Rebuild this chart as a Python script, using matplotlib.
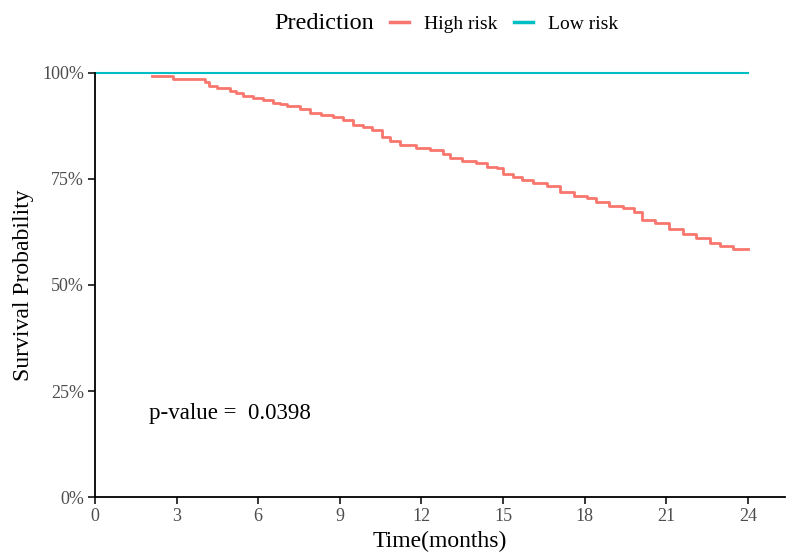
import matplotlib
matplotlib.use('Agg')
from matplotlib import pyplot as plt
from matplotlib.ticker import FuncFormatter

plt.rcParams['font.family'] = ['Liberation Serif', 'DejaVu Serif']

# Kaplan-Meier steps (months, survival)
high_t = [2.1, 2.85, 4.04, 4.2, 4.47, 4.96, 5.2, 5.44, 5.8, 6.18, 6.55, 6.8, 7.06, 7.54,
          7.9, 8.3, 8.75, 9.12, 9.49, 9.86, 10.2, 10.54, 10.85, 11.2, 11.8, 12.3,
          12.8, 13.05, 13.5, 14.0, 14.4, 14.77, 15.0, 15.37, 15.7, 16.1, 16.6,
          17.1, 17.6, 18.1, 18.4, 18.9, 19.4, 19.8, 20.1, 20.6, 21.1, 21.6, 22.1,
          22.6, 22.98, 23.45, 24.0]
high_s = [0.994, 0.985, 0.978, 0.970, 0.964, 0.958, 0.952, 0.946, 0.942, 0.936, 0.930,
          0.926, 0.921, 0.914, 0.906, 0.902, 0.897, 0.888, 0.877, 0.872, 0.866, 0.850,
          0.840, 0.830, 0.824, 0.818, 0.810, 0.799, 0.792, 0.787, 0.779, 0.775,
          0.762, 0.754, 0.748, 0.740, 0.733, 0.720, 0.710, 0.704, 0.696, 0.686,
          0.681, 0.671, 0.653, 0.647, 0.631, 0.620, 0.612, 0.598, 0.592, 0.586, 0.586]
low_t = [0.0, 24.0]
low_s = [1.0, 1.0]

groups = ['High risk', 'Low risk']
colors = ['#F8766D', '#00BFC4']
p_text = 'p-value =  0.0398'

fig = plt.figure(figsize=(7.87, 5.52), dpi=100)
ax = fig.add_axes([0.1207, 0.0996, 0.877, 0.7682])

h1, = ax.step(high_t, high_s, where='post', color=colors[0], linewidth=2.0, clip_on=False)
h2, = ax.step(low_t, low_s, where='post', color=colors[1], linewidth=1.5, clip_on=False)

ax.set_xlim(0, 25.37)
ax.set_ylim(0, 1)
ax.set_xticks(range(0, 25, 3))
ax.set_yticks([0, 0.25, 0.5, 0.75, 1.0])
ax.yaxis.set_major_formatter(FuncFormatter(lambda v, p: '%d%%' % round(v * 100)))
ax.tick_params(axis='both', labelsize=13, labelcolor='#4D4D4D', length=5,
               width=1.1, color='black', pad=3)
for s in ['top', 'right']:
    ax.spines[s].set_visible(False)
for s in ['left', 'bottom']:
    ax.spines[s].set_linewidth(1.3)

ax.set_xlabel('Time(months)', fontsize=17, labelpad=4)
ax.set_ylabel('Survival Probability', fontsize=17, labelpad=6)

ax.text(2.0, 0.198, p_text, fontsize=16.5, ha='left', va='center')

fig.text(0.349, 0.957, 'Prediction', fontsize=17.5, ha='left', va='center')
fig.legend(handles=[h1, h2], labels=groups, loc='center left',
           bbox_to_anchor=(0.4956, 0.957), ncol=2, frameon=False, fontsize=14,
           handlelength=1.0, handletextpad=0.77, columnspacing=0.8,
           borderaxespad=0, borderpad=0)
for lh in fig.legends[0].get_lines():
    lh.set_linewidth(2.5)

fig.savefig('out.png', dpi=100)
